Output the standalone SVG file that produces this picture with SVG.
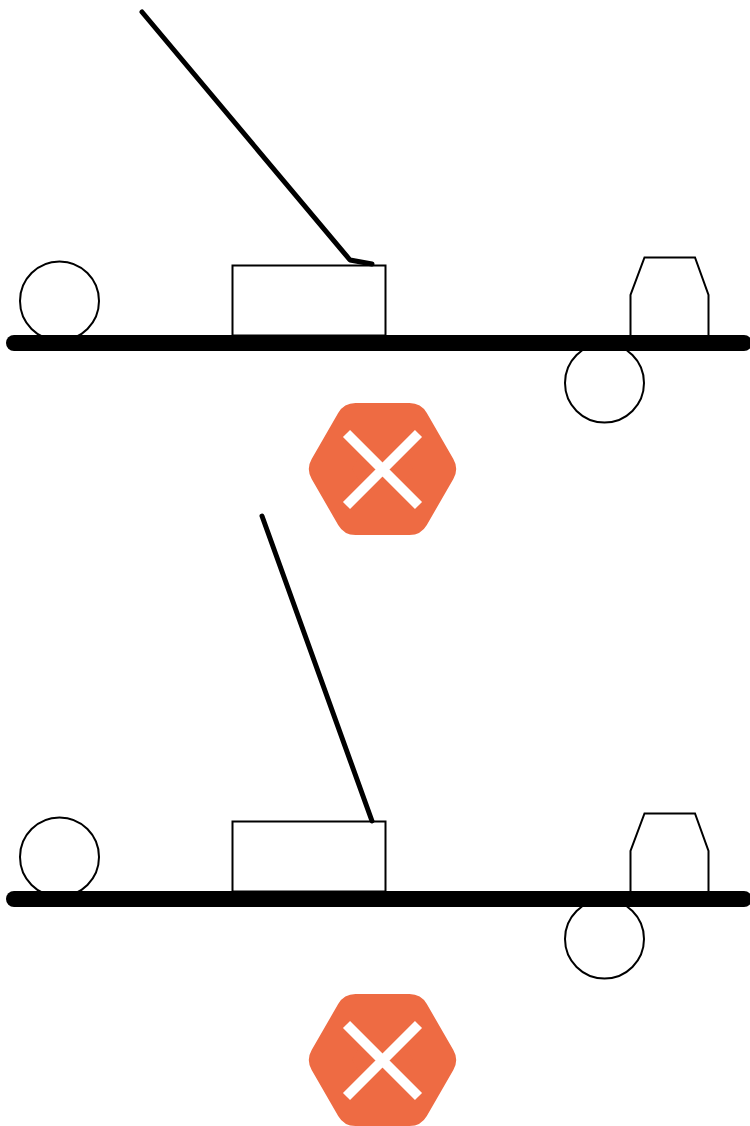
<svg xmlns="http://www.w3.org/2000/svg" width="750" height="1126" viewBox="0 0 750 1126">
<style>
.o{fill:#fff;stroke:#000;stroke-width:2}
.bar{fill:none;stroke:#000;stroke-width:16;stroke-linecap:round}
.rod{fill:none;stroke:#000;stroke-width:5;stroke-linecap:round;stroke-linejoin:round}
.hex{fill:#ee6b43;stroke:#ee6b43;stroke-width:40;stroke-linejoin:round}
.x{fill:none;stroke:#fff;stroke-width:10}
</style>
<defs>
<g id="cross"><polygon class="hex" points="329,469 355.500,423 409.500,423 436,469 409.500,515 355.500,515"/><path class="x" d="M346.500 433.500L418.500 505.500M418.500 433.500L346.500 505.500"/></g>
</defs>
<g id="top-ball"><circle class="o" cx="59.500" cy="301" r="39.500"/></g>
<g id="top-box"><rect class="o" x="232.500" y="265.500" width="153" height="70"/></g>
<g id="top-cap"><path class="o" d="M630.500 338V295L644.500 257.500H695L708.500 295V338"/></g>
<g id="top-under"><circle class="o" cx="604.500" cy="383" r="39.500"/></g>
<g id="top-bar"><path class="bar" d="M14 343H744"/></g>
<g id="top-rod"><path class="rod" d="M142 12L350 260L372 264"/></g>
<g id="top-mark"><use href="#cross"/></g>
<g id="bottom-ball"><circle class="o" cx="59.500" cy="857" r="39.500"/></g>
<g id="bottom-box"><rect class="o" x="232.500" y="821.500" width="153" height="70"/></g>
<g id="bottom-cap"><path class="o" d="M630.500 894V851L644.500 813.500H695L708.500 851V894"/></g>
<g id="bottom-under"><circle class="o" cx="604.500" cy="939" r="39.500"/></g>
<g id="bottom-bar"><path class="bar" d="M14 899H744"/></g>
<g id="bottom-rod"><path class="rod" d="M262 516L372 821"/></g>
<g id="bottom-mark"><use href="#cross" y="591"/></g>
</svg>
